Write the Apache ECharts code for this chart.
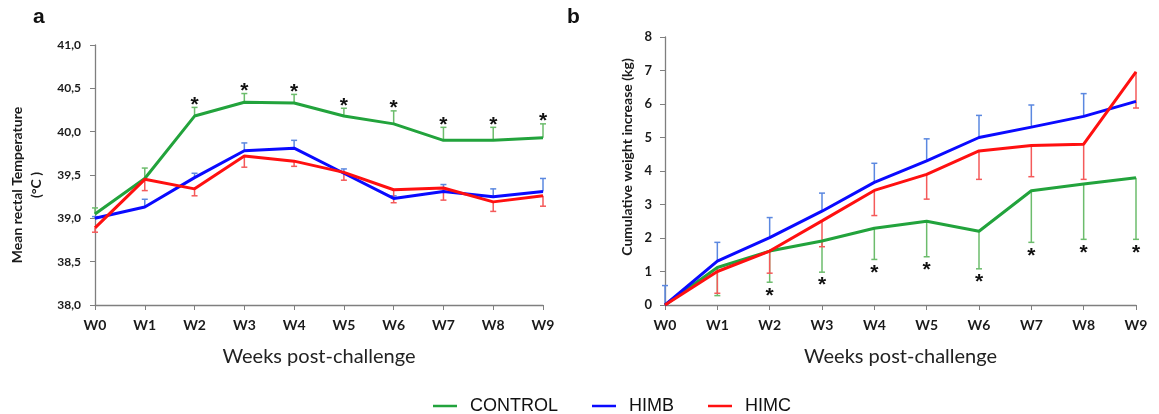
<!DOCTYPE html>
<html>
<head>
<meta charset="utf-8">
<title>Rectal temperature and weight gain</title>
<script src="https://cdn.jsdelivr.net/npm/echarts@6/dist/echarts.min.js"></script>
<style>
  html, body { margin: 0; padding: 0; background: #fff; }
  #main { width: 1159px; height: 414px; }
</style>
</head>
<body>
<div id="main"></div>
<script>
  // categories
  var weeks = ['W0', 'W1', 'W2', 'W3', 'W4', 'W5', 'W6', 'W7', 'W8', 'W9']

  // panel a: mean rectal temperature (°C) and error bar sizes
  var tempControl = [39.05, 39.46, 40.18, 40.34, 40.33, 40.18, 40.09, 39.90, 39.90, 39.93]
  var tempControlErr = [0.07, 0.12, 0.10, 0.10, 0.10, 0.09, 0.15, 0.15, 0.15, 0.16]
  var tempHimb = [39.00, 39.13, 39.47, 39.78, 39.81, 39.52, 39.23, 39.31, 39.25, 39.31]
  var tempHimbErr = [0.02, 0.09, 0.05, 0.09, 0.09, 0.05, 0.03, 0.08, 0.09, 0.15]
  var tempHimc = [38.89, 39.45, 39.34, 39.72, 39.66, 39.53, 39.33, 39.35, 39.19, 39.26]
  var tempHimcErr = [0.05, 0.13, 0.08, 0.13, 0.06, 0.09, 0.15, 0.14, 0.11, 0.12]
  var tempStars = [0, 0, 1, 1, 1, 1, 1, 1, 1, 1]

  // panel b: cumulative weight increase (kg) and error bar sizes
  var wtControl = [0, 1.12, 1.61, 1.91, 2.29, 2.50, 2.20, 3.41, 3.61, 3.80]
  var wtControlErr = [0, 0.84, 0.93, 0.93, 0.93, 1.06, 1.12, 1.54, 1.65, 1.84]
  var wtHimb = [0, 1.31, 2.01, 2.80, 3.66, 4.30, 5.00, 5.31, 5.63, 6.08]
  var wtHimbErr = [0.58, 0.56, 0.60, 0.54, 0.57, 0.66, 0.66, 0.66, 0.68, 0]
  var wtHimc = [0, 1.00, 1.61, 2.51, 3.42, 3.90, 4.60, 4.76, 4.80, 6.96]
  var wtHimcErr = [0, 0.65, 0.66, 0.77, 0.75, 0.74, 0.85, 0.93, 1.05, 1.08]
  var wtStars = [0, 0, 1, 1, 1, 1, 1, 1, 1, 1]

  var GREEN = '#22a33c', BLUE = '#0a0aff', RED = '#ff1010'
  var GREEN_ERR = '#6cbc6c', BLUE_ERR = '#5b88e0', RED_ERR = '#f45a5a'

  // error bar drawn from the mean, up (dir=1) or down (dir=-1)
  function errBars(axis, means, errs, dir, color) {
    return {
      type: 'custom',
      xAxisIndex: axis, yAxisIndex: axis,
      z: 1,
      silent: true,
      data: means.map(function (m, i) { return [i, m, errs[i]] }),
      renderItem: function (params, api) {
        var e = api.value(2)
        if (!e) return
        var p0 = api.coord([api.value(0), api.value(1)])
        var p1 = api.coord([api.value(0), api.value(1) + dir * e])
        var st = { stroke: color, lineWidth: 1.5 }
        return {
          type: 'group',
          children: [
            { type: 'line', shape: { x1: p0[0], y1: p0[1], x2: p1[0], y2: p1[1] }, style: st },
            { type: 'line', shape: { x1: p1[0] - 3, y1: p1[1], x2: p1[0] + 3, y2: p1[1] }, style: st }
          ]
        }
      }
    }
  }

  // significance stars placed just past the end of the control error bar
  function stars(axis, means, errs, flags, dir) {
    return {
      type: 'custom',
      xAxisIndex: axis, yAxisIndex: axis,
      z: 3,
      silent: true,
      data: means.map(function (m, i) { return [i, m, errs[i], flags[i]] }),
      renderItem: function (params, api) {
        if (!api.value(3)) return
        var p = api.coord([api.value(0), api.value(1) + dir * api.value(2)])
        return {
          type: 'text',
          style: {
            text: '*', x: p[0], y: dir > 0 ? p[1] + 8 : p[1] + 3,
            align: 'center', verticalAlign: dir > 0 ? 'bottom' : 'top',
            font: 'bold 21px "Liberation Sans"', fill: '#111'
          }
        }
      }
    }
  }

  function line(axis, name, data, color) {
    return {
      name: name, type: 'line',
      xAxisIndex: axis, yAxisIndex: axis,
      data: data, symbol: 'none', z: 2,
      lineStyle: { color: color, width: 3 },
      itemStyle: { color: color }
    }
  }

  var axisLine = { lineStyle: { color: '#7f7f7f', width: 1.3 } }
  var tickLabel = { color: '#1a1a1a', fontFamily: 'Lato', fontWeight: 'bold' }

  function xAx(idx) {
    return {
      type: 'category', gridIndex: idx, data: weeks, boundaryGap: false,
      axisLine: axisLine,
      axisTick: { show: true, length: 5, lineStyle: { color: '#7f7f7f' } },
      axisLabel: Object.assign({ fontSize: 14, margin: 13 }, tickLabel),
      name: 'Weeks post-challenge', nameLocation: 'middle', nameGap: 42,
      nameTextStyle: { fontFamily: 'Lato', fontSize: 20, color: '#222' }
    }
  }

  var chart = echarts.init(document.getElementById('main'))
  var option = {
    animation: false,
    grid: [
      { left: 95, top: 45, width: 448, height: 260 },
      { left: 665, top: 37, width: 471, height: 268 }
    ],
    xAxis: [xAx(0), xAx(1)],
    yAxis: [
      {
        type: 'value', gridIndex: 0, min: 38, max: 41, interval: 0.5,
        axisLine: Object.assign({ show: true }, axisLine),
        axisTick: { show: true, length: 5, lineStyle: { color: '#7f7f7f' } },
        splitLine: { show: false },
        axisLabel: Object.assign({
          fontSize: 12, margin: 14,
          formatter: function (v) { return v.toFixed(1).replace('.', ',') }
        }, tickLabel)
      },
      {
        type: 'value', gridIndex: 1, min: 0, max: 8, interval: 1,
        axisLine: Object.assign({ show: true }, axisLine),
        axisTick: { show: true, length: 5, lineStyle: { color: '#7f7f7f' } },
        splitLine: { show: false },
        axisLabel: Object.assign({ fontSize: 13, margin: 13 }, tickLabel)
      }
    ],
    legend: {
      data: ['CONTROL', 'HIMB', 'HIMC'],
      left: 428, top: 392,
      icon: 'rect', itemWidth: 24, itemHeight: 2.5, itemGap: 34,
      textStyle: { fontFamily: 'Liberation Sans', fontSize: 18, color: '#111', padding: [0, 0, 0, 8] }
    },
    graphic: [
      { type: 'text', left: 33, top: 7, style: { text: 'a', font: 'bold 21px "Liberation Sans"', fill: '#111' } },
      { type: 'text', left: 567, top: 7, style: { text: 'b', font: 'bold 21px "Liberation Sans"', fill: '#111' } },
      {
        type: 'text', x: 27, y: 185, rotation: Math.PI / 2,
        style: {
          text: 'Mean rectal Temperature\n(°C )', align: 'center', verticalAlign: 'middle',
          font: 'bold 14px Lato', lineHeight: 19, fill: '#1a1a1a'
        }
      },
      {
        type: 'text', x: 627, y: 157, rotation: Math.PI / 2,
        style: {
          text: 'Cumulative weight increase (kg)', align: 'center', verticalAlign: 'middle',
          font: 'bold 14px Lato', fill: '#1a1a1a'
        }
      }
    ],
    series: [
      errBars(0, tempControl, tempControlErr, 1, GREEN_ERR),
      errBars(0, tempHimb, tempHimbErr, 1, BLUE_ERR),
      errBars(0, tempHimc, tempHimcErr, -1, RED_ERR),
      line(0, 'CONTROL', tempControl, GREEN),
      line(0, 'HIMB', tempHimb, BLUE),
      line(0, 'HIMC', tempHimc, RED),
      stars(0, tempControl, tempControlErr, tempStars, 1),

      errBars(1, wtControl, wtControlErr, -1, GREEN_ERR),
      errBars(1, wtHimb, wtHimbErr, 1, BLUE_ERR),
      errBars(1, wtHimc, wtHimcErr, -1, RED_ERR),
      line(1, 'CONTROL', wtControl, GREEN),
      line(1, 'HIMB', wtHimb, BLUE),
      line(1, 'HIMC', wtHimc, RED),
      stars(1, wtControl, wtControlErr, wtStars, -1)
    ]
  }
  chart.setOption(option)
</script>
</body>
</html>
